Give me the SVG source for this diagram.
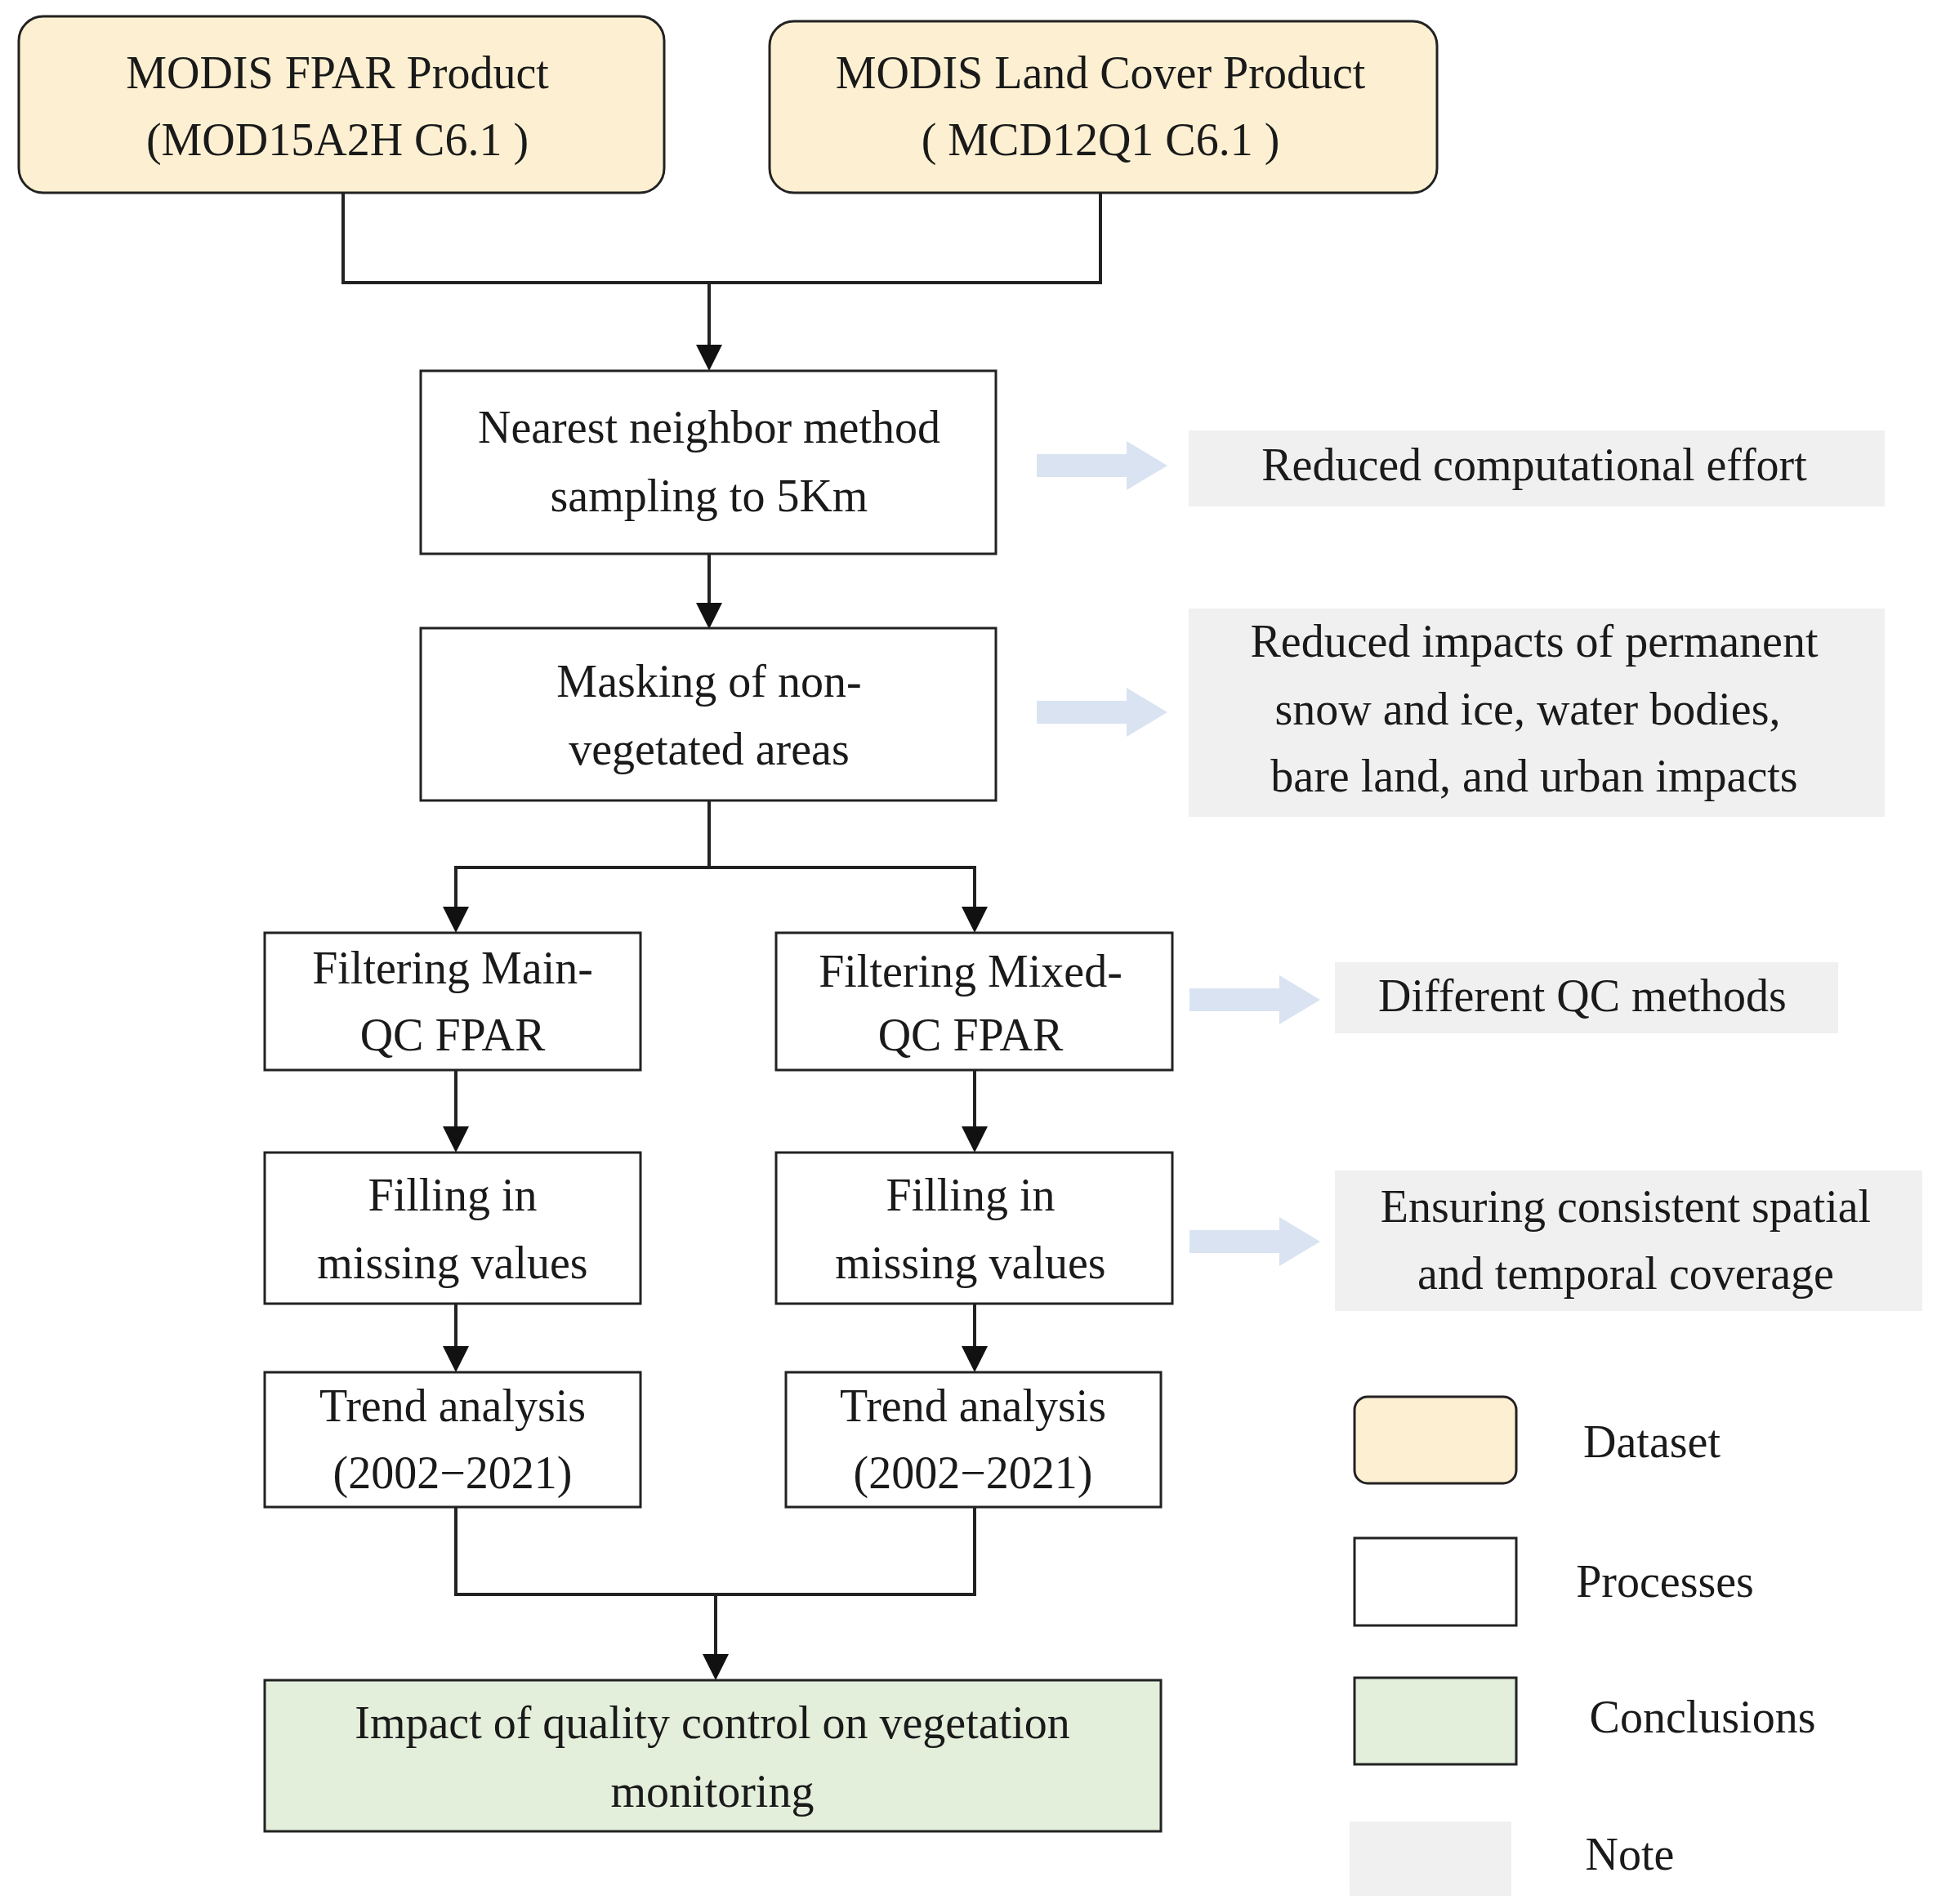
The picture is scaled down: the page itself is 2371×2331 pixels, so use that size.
<svg xmlns="http://www.w3.org/2000/svg" width="2371" height="2331" viewBox="0 0 2371 2331">
<style>
text{font-family:"Liberation Serif","DejaVu Serif",serif;font-size:56px;fill:#1a1a1a;text-anchor:middle}
.ds{fill:#fdf0d2;stroke:#222;stroke-width:3}
.pr{fill:#fff;stroke:#222;stroke-width:3}
.cn{fill:#e3eedb;stroke:#222;stroke-width:3}
.nt{fill:#f0f0f0}
.ln{fill:none;stroke:#222;stroke-width:4}
.ba{fill:#dae3f1}
</style>
<defs>
<marker id="ah" markerWidth="8" markerHeight="8" refX="7" refY="4" orient="auto" markerUnits="strokeWidth"><path d="M0,0L8,4L0,8z" fill="#111"/></marker>
<path id="blk" d="M0,-14H110V-30L160,0L110,30V14H0z"/>
</defs>
<g id="connectors">
<path class="ln" d="M420,236V346H1347V236"/>
<path class="ln" d="M868,346V450" marker-end="url(#ah)"/>
<path class="ln" d="M868,678V766" marker-end="url(#ah)"/>
<path class="ln" d="M868,980V1062H558V1138" marker-end="url(#ah)"/>
<path class="ln" d="M868,1062H1193V1138" marker-end="url(#ah)"/>
<path class="ln" d="M558,1310V1407" marker-end="url(#ah)"/>
<path class="ln" d="M1193,1310V1407" marker-end="url(#ah)"/>
<path class="ln" d="M558,1596V1676" marker-end="url(#ah)"/>
<path class="ln" d="M1193,1596V1676" marker-end="url(#ah)"/>
<path class="ln" d="M558,1845V1952H1193V1845"/>
<path class="ln" d="M876,1952V2053" marker-end="url(#ah)"/>
<use href="#blk" class="ba" x="1269" y="570"/>
<use href="#blk" class="ba" x="1269" y="872"/>
<use href="#blk" class="ba" x="1456" y="1224"/>
<use href="#blk" class="ba" x="1456" y="1520"/>
</g>
<g id="modis-fpar"><rect class="ds" x="23" y="20" width="790" height="216" rx="30"/><text x="413" y="108">MODIS FPAR Product</text><text x="413" y="190">(MOD15A2H C6.1 )</text></g>
<g id="modis-lc"><rect class="ds" x="942" y="26" width="817" height="210" rx="30"/><text x="1347" y="108">MODIS Land Cover Product</text><text x="1347" y="190">( MCD12Q1 C6.1 )</text></g>
<g id="nearest"><rect class="pr" x="515" y="454" width="704" height="224"/><text x="868" y="542">Nearest neighbor method</text><text x="868" y="626">sampling  to 5Km</text></g>
<g id="masking"><rect class="pr" x="515" y="769" width="704" height="211"/><text x="868" y="853">Masking of non-</text><text x="868" y="936">vegetated areas</text></g>
<g id="filter-main"><rect class="pr" x="324" y="1142" width="460" height="168"/><text x="554" y="1204">Filtering  Main-</text><text x="554" y="1286">QC FPAR</text></g>
<g id="filter-mixed"><rect class="pr" x="950" y="1142" width="485" height="168"/><text x="1188" y="1208">Filtering  Mixed-</text><text x="1188" y="1286">QC FPAR</text></g>
<g id="fill-main"><rect class="pr" x="324" y="1411" width="460" height="185"/><text x="554" y="1482">Filling  in</text><text x="554" y="1565">missing  values</text></g>
<g id="fill-mixed"><rect class="pr" x="950" y="1411" width="485" height="185"/><text x="1188" y="1482">Filling  in</text><text x="1188" y="1565">missing  values</text></g>
<g id="trend-main"><rect class="pr" x="324" y="1680" width="460" height="165"/><text x="554" y="1740">Trend analysis</text><text x="554" y="1822">(2002−2021)</text></g>
<g id="trend-mixed"><rect class="pr" x="962" y="1680" width="459" height="165"/><text x="1191" y="1740">Trend analysis</text><text x="1191" y="1822">(2002−2021)</text></g>
<g id="conclusion"><rect class="cn" x="324" y="2057" width="1097" height="185"/><text x="872" y="2128">Impact of quality  control on vegetation</text><text x="872" y="2212">monitoring</text></g>
<g id="note1"><rect class="nt" x="1455" y="527" width="852" height="93"/><text x="1878" y="588">Reduced computational  effort</text></g>
<g id="note2"><rect class="nt" x="1455" y="745" width="852" height="255"/><text x="1878" y="804">Reduced impacts of permanent</text><text x="1870" y="887">snow and ice, water bodies,</text><text x="1878" y="969">bare land, and urban impacts</text></g>
<g id="note3"><rect class="nt" x="1634" y="1178" width="616" height="87"/><text x="1937" y="1238">Different QC methods</text></g>
<g id="note4"><rect class="nt" x="1634" y="1433" width="719" height="172"/><text x="1990" y="1496">Ensuring  consistent spatial</text><text x="1990" y="1578">and temporal coverage</text></g>
<g id="legend">
<rect class="ds" x="1658" y="1710" width="198" height="106" rx="16"/><text x="2022" y="1784">Dataset</text>
<rect class="pr" x="1658" y="1883" width="198" height="107"/><text x="2038" y="1955">Processes</text>
<rect class="cn" x="1658" y="2054" width="198" height="106"/><text x="2084" y="2121">Conclusions</text>
<rect class="nt" x="1652" y="2230" width="198" height="91"/><text x="1995" y="2289">Note</text>
</g>
</svg>
